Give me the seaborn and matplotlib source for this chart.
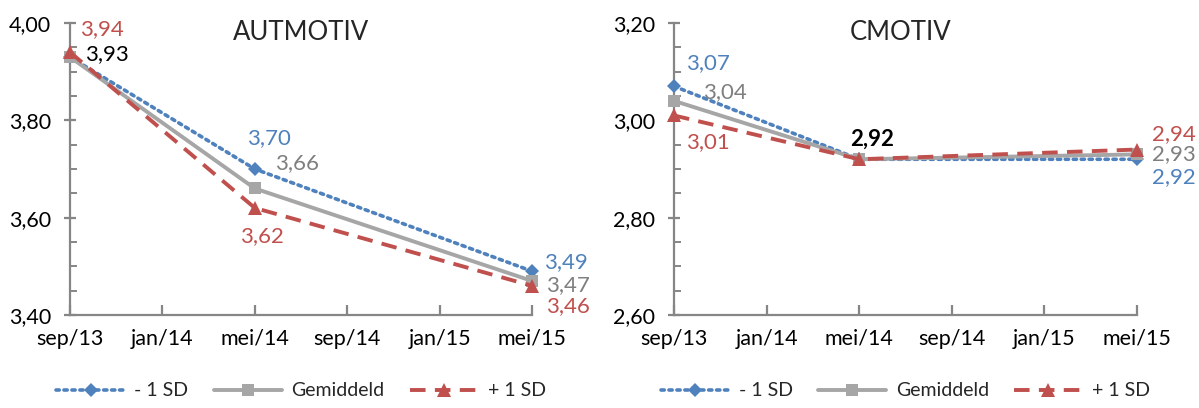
import matplotlib
matplotlib.use("Agg")
import matplotlib.pyplot as plt
from matplotlib.ticker import MultipleLocator, FixedLocator
import seaborn as sns
import pandas as pd

# ---------------- data ----------------
month_labels = ["sep/13", "jan/14", "mei/14", "sep/14", "jan/15", "mei/15"]
month_pos = [0, 4, 8, 12, 16, 20]          # months since sep/13
obs_months = [0, 8, 20]                    # sep/13, mei/14, mei/15

series_names = ["- 1 SD", "Gemiddeld", "+ 1 SD"]

aut_min1sd = [3.93, 3.70, 3.49]
aut_gem = [3.93, 3.66, 3.47]
aut_plus1sd = [3.94, 3.62, 3.46]

cm_min1sd = [3.07, 2.92, 2.92]
cm_gem = [3.04, 2.92, 2.93]
cm_plus1sd = [3.01, 2.92, 2.94]

titles = ["AUTMOTIV", "CMOTIV"]
ylims = [(3.40, 4.00), (2.60, 3.20)]

# ---------------- style ----------------
sns.set_theme(style="white")
plt.rcParams["font.family"] = ["Lato", "DejaVu Sans"]

BLUE = "#4F81BD"
GRAY = "#A6A6A6"
RED = "#C0504D"
LBL = {"- 1 SD": "#4F81BD", "Gemiddeld": "#7F7F7F", "+ 1 SD": "#C0504D"}
SPINE = "#868686"

styles = {
    "- 1 SD": dict(color=BLUE, marker="D", markersize=7.5, linewidth=2.6,
                   dashes=(0.9, 1.3), dash_capstyle="round"),
    "Gemiddeld": dict(color=GRAY, marker="s", markersize=9, linewidth=2.8),
    "+ 1 SD": dict(color=RED, marker="^", markersize=10, linewidth=2.8,
                   dashes=(4.0, 2.4)),
}

# label offsets in pixels (dx, dy, ha, [color override, bold])
px = 1 / 1.389
label_offsets = [
    {  # AUTMOTIV
        "- 1 SD": [None, (14, 31, "center"), (12, 9, "left")],
        "Gemiddeld": [(15, 3, "left", "black", False), (20, 25, "left"), (14, -4, "left")],
        "+ 1 SD": [(10, 23, "left"), (7, -28, "center"), (14, -20, "left")],
    },
    {  # CMOTIV
        "- 1 SD": [(12, 23, "left"), None, (15, -18, "left")],
        "Gemiddeld": [(29, 9, "left"), (13, 20, "center", "black", True), (15, 0, "left")],
        "+ 1 SD": [(12, -27, "left"), None, (15, 15, "left")],
    },
]

fig = plt.figure(figsize=(11.99, 4.08), dpi=100)
ax_rects = [
    [70 / 1199, (408 - 315) / 408, 462 / 1199, 292 / 408],
    [674 / 1199, (408 - 315) / 408, 463 / 1199, 292 / 408],
]

datasets = [
    {"- 1 SD": aut_min1sd, "Gemiddeld": aut_gem, "+ 1 SD": aut_plus1sd},
    {"- 1 SD": cm_min1sd, "Gemiddeld": cm_gem, "+ 1 SD": cm_plus1sd},
]

for i in range(2):
    ax = fig.add_axes(ax_rects[i])
    data = datasets[i]
    for name in series_names:
        df = pd.DataFrame({"month": obs_months, "value": data[name]})
        st = dict(styles[name])
        dashes = st.pop("dashes", None)
        capst = st.pop("dash_capstyle", None)
        sns.lineplot(data=df, x="month", y="value", ax=ax, label=name,
                     markeredgewidth=0, zorder=3, **st)
        ln = ax.get_lines()[-1]
        if dashes is not None:
            ln.set_dashes(dashes)
        if capst is not None:
            ln.set_dash_capstyle(capst)
        # labels
        for j, (m, v) in enumerate(zip(obs_months, data[name])):
            spec = label_offsets[i][name][j]
            if spec is None:
                continue
            dx, dy, ha = spec[0], spec[1], spec[2]
            color = spec[3] if len(spec) > 3 else LBL[name]
            bold = spec[4] if len(spec) > 4 else False
            ax.annotate(f"{v:.2f}".replace(".", ","), xy=(m, v),
                        xytext=(dx * px, dy * px), textcoords="offset points",
                        ha=ha, va="center", fontsize=16, color=color,
                        fontweight="bold" if bold else "normal", zorder=5)

    ax.set_xlim(0, 20)
    ax.set_ylim(*ylims[i])
    ax.set_xlabel("")
    ax.set_ylabel("")
    ax.xaxis.set_major_locator(FixedLocator(month_pos))
    ax.set_xticklabels(month_labels)
    ax.yaxis.set_major_locator(MultipleLocator(0.2))
    ax.yaxis.set_minor_locator(MultipleLocator(0.05))
    ax.yaxis.set_major_formatter(plt.FuncFormatter(lambda v, p: f"{v:.2f}".replace(".", ",")))
    for s in ["top", "right"]:
        ax.spines[s].set_visible(False)
    for s in ["left", "bottom"]:
        ax.spines[s].set_color(SPINE)
        ax.spines[s].set_linewidth(1.6)
    ax.tick_params(axis="y", which="major", direction="inout", length=9, width=1.6,
                   color=SPINE, labelsize=15.5, labelcolor="black", pad=9, left=True)
    ax.tick_params(axis="y", which="minor", direction="in", length=5, width=1.4,
                   color=SPINE, left=True)
    ax.tick_params(axis="x", which="major", direction="in", length=7, width=1.6,
                   color=SPINE, labelsize=15.5, labelcolor="black", pad=10, bottom=True)
    ax.set_facecolor("white")
    ax.grid(False)
    ax.text(0.5 if i == 0 else 0.49, 0.969, titles[i], transform=ax.transAxes,
            ha="center", va="center", fontsize=18.5, color="#262626")
    ax.legend(loc="center", bbox_to_anchor=(0.5, (315 - 391) / 292), ncol=3,
              frameon=False, fontsize=14, handlelength=3.5, columnspacing=1.3,
              handletextpad=0.5)
    for ln in ax.get_lines():
        ln.set_clip_on(False)

fig.savefig("out.png", dpi=100, facecolor="white")
